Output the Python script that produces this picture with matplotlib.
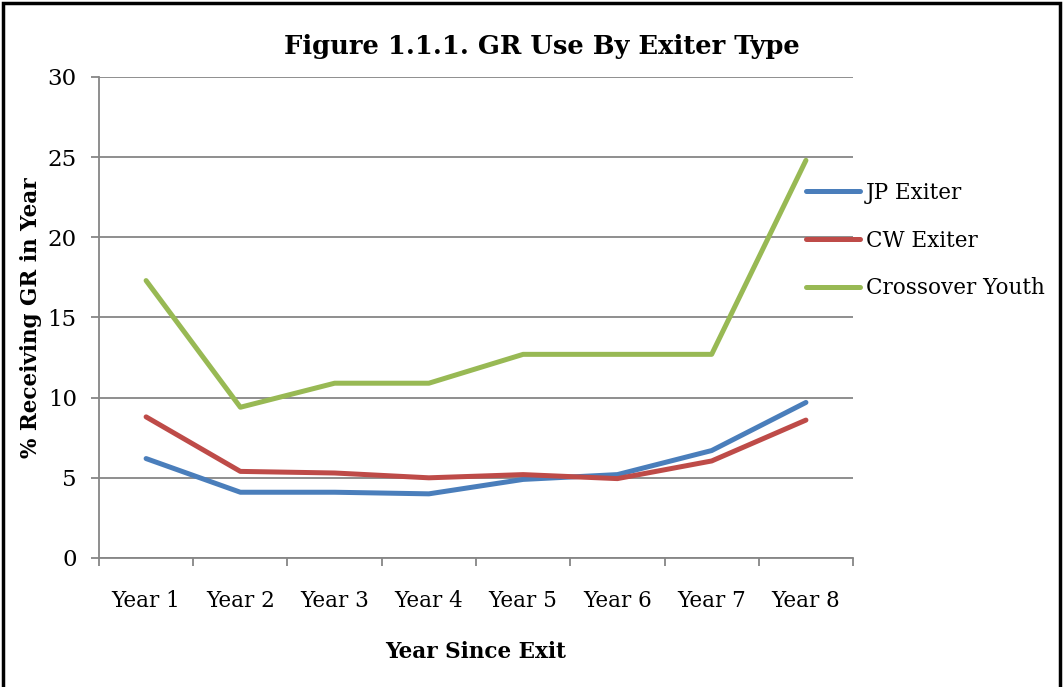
import matplotlib
matplotlib.use("Agg")
import matplotlib.pyplot as plt
from matplotlib.patches import Rectangle

# ─────────────────────────────────────────────
# Data
# ─────────────────────────────────────────────
years = ["Year 1", "Year 2", "Year 3", "Year 4",
         "Year 5", "Year 6", "Year 7", "Year 8"]
jp_exiter = [6.2, 4.1, 4.1, 4.0, 4.9, 5.2, 6.7, 9.7]
cw_exiter = [8.8, 5.4, 5.3, 5.0, 5.2, 4.95, 6.05, 8.6]
crossover_youth = [17.3, 9.4, 10.9, 10.9, 12.7, 12.7, 12.7, 24.8]

series_names = ["JP Exiter", "CW Exiter", "Crossover Youth"]
series_colors = ["#4A7EBB", "#BE4B48", "#98B954"]

plt.rcParams["font.family"] = ["DejaVu Serif"]

fig = plt.figure(figsize=(10.63, 6.87), dpi=100)
ax = fig.add_axes([0.0931, 0.1878, 0.7094, 0.7002])

x = list(range(len(years)))
for vals, name, col in zip([jp_exiter, cw_exiter, crossover_youth],
                           series_names, series_colors):
    ax.plot(x, vals, color=col, lw=3.6, label=name,
            solid_capstyle="round", solid_joinstyle="round")

grid_col = "#868686"
ax.set_xlim(-0.5, len(years) - 0.5)
ax.set_ylim(0, 30)
ax.set_yticks(range(0, 31, 5))
ax.set_xticks(x)
ax.set_xticklabels(years)
ax.yaxis.grid(True, color=grid_col, lw=1.3)
ax.set_axisbelow(True)

# category boundary ticks on x axis
ax.set_xticks([i - 0.5 for i in range(len(years) + 1)], minor=True)
ax.tick_params(axis="x", which="major", length=0, pad=23, labelsize=15.5)
ax.tick_params(axis="x", which="minor", length=6, width=1.3,
               color=grid_col, direction="out")
ax.tick_params(axis="y", length=6, width=1.3, color=grid_col,
               direction="out", pad=10, labelsize=16.5)

for side in ["top", "right"]:
    ax.spines[side].set_visible(False)
for side in ["left", "bottom"]:
    ax.spines[side].set_color(grid_col)
    ax.spines[side].set_linewidth(1.3)

ax.set_ylabel("% Receiving GR in Year", fontsize=15.5, fontweight="bold",
              labelpad=4)
ax.set_xlabel("Year Since Exit", fontsize=15.5, fontweight="bold",
              labelpad=21)
fig.text(0.51, 0.932, "Figure 1.1.1. GR Use By Exiter Type",
         ha="center", va="center", fontsize=18.5, fontweight="bold")

ax.legend(loc="upper left", bbox_to_anchor=(0.938, 0.782), frameon=False,
          fontsize=15.5, handlelength=2.5, handletextpad=0.25,
          labelspacing=1.2, borderaxespad=0, borderpad=0)

# outer frame
fig.patches.append(Rectangle((0.0025, -0.02), 0.9945, 1.016,
                             transform=fig.transFigure, fill=False,
                             edgecolor="black", lw=2.5))

fig.savefig("out.png", dpi=100)
